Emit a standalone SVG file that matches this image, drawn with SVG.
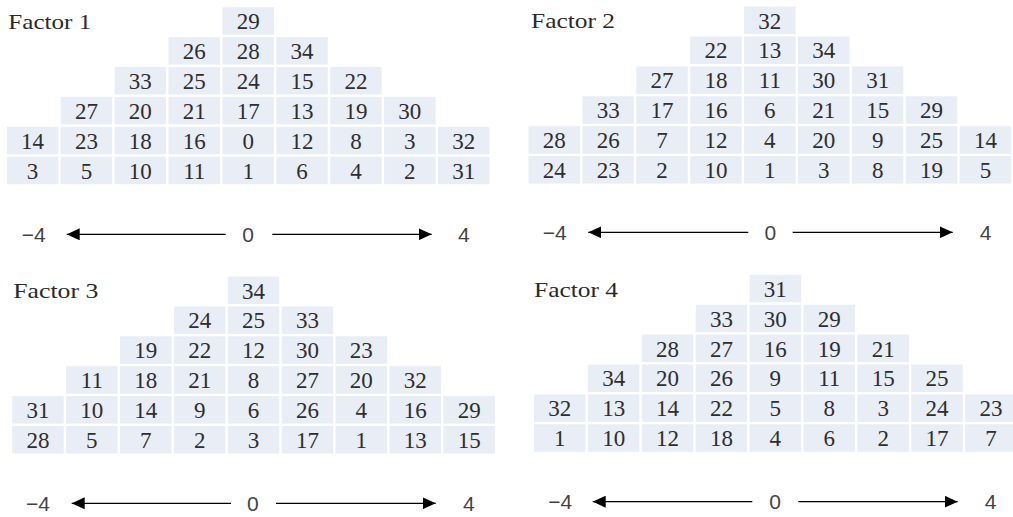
<svg xmlns="http://www.w3.org/2000/svg" width="1013" height="517" viewBox="0 0 1013 517">
<style>
.c{fill:#E9EDF6}
.n{font-family:"Liberation Serif","Times New Roman",serif;font-size:23px;fill:#2e2e2e;text-anchor:middle}
.t{font-family:"Liberation Serif","Times New Roman",serif;font-size:22px;fill:#2a2a2a}
.a{font-family:"Liberation Sans",Arial,sans-serif;font-size:21px;fill:#444}
.m{text-anchor:middle}
.ln{stroke:#000;stroke-width:1.3;fill:none;marker-end:url(#ah)}
</style>
<defs>
<marker id="ah" markerUnits="userSpaceOnUse" markerWidth="13" markerHeight="12" refX="13" refY="6" orient="auto">
<path d="M0,0 L13,6 L0,12 z" fill="#000"/>
</marker>
<g id="shape">
<rect class="c" x="215.6" y="0" width="51.5" height="27.5"/>
<rect class="c" x="161.7" y="29.9" width="51.5" height="27.5"/><rect class="c" x="215.6" y="29.9" width="51.5" height="27.5"/><rect class="c" x="269.5" y="29.9" width="51.5" height="27.5"/>
<rect class="c" x="107.8" y="59.8" width="51.5" height="27.5"/><rect class="c" x="161.7" y="59.8" width="51.5" height="27.5"/><rect class="c" x="215.6" y="59.8" width="51.5" height="27.5"/><rect class="c" x="269.5" y="59.8" width="51.5" height="27.5"/><rect class="c" x="323.4" y="59.8" width="51.5" height="27.5"/>
<rect class="c" x="53.9" y="89.7" width="51.5" height="27.5"/><rect class="c" x="107.8" y="89.7" width="51.5" height="27.5"/><rect class="c" x="161.7" y="89.7" width="51.5" height="27.5"/><rect class="c" x="215.6" y="89.7" width="51.5" height="27.5"/><rect class="c" x="269.5" y="89.7" width="51.5" height="27.5"/><rect class="c" x="323.4" y="89.7" width="51.5" height="27.5"/><rect class="c" x="377.3" y="89.7" width="51.5" height="27.5"/>
<rect class="c" x="0" y="119.6" width="51.5" height="27.5"/><rect class="c" x="53.9" y="119.6" width="51.5" height="27.5"/><rect class="c" x="107.8" y="119.6" width="51.5" height="27.5"/><rect class="c" x="161.7" y="119.6" width="51.5" height="27.5"/><rect class="c" x="215.6" y="119.6" width="51.5" height="27.5"/><rect class="c" x="269.5" y="119.6" width="51.5" height="27.5"/><rect class="c" x="323.4" y="119.6" width="51.5" height="27.5"/><rect class="c" x="377.3" y="119.6" width="51.5" height="27.5"/><rect class="c" x="431.2" y="119.6" width="51.5" height="27.5"/>
<rect class="c" x="0" y="149.5" width="51.5" height="27.5"/><rect class="c" x="53.9" y="149.5" width="51.5" height="27.5"/><rect class="c" x="107.8" y="149.5" width="51.5" height="27.5"/><rect class="c" x="161.7" y="149.5" width="51.5" height="27.5"/><rect class="c" x="215.6" y="149.5" width="51.5" height="27.5"/><rect class="c" x="269.5" y="149.5" width="51.5" height="27.5"/><rect class="c" x="323.4" y="149.5" width="51.5" height="27.5"/><rect class="c" x="377.3" y="149.5" width="51.5" height="27.5"/><rect class="c" x="431.2" y="149.5" width="51.5" height="27.5"/>
</g>
</defs>

<g id="factor1" transform="translate(6.8,7.2)">
<use href="#shape"/>
<text class="n" x="241.35" y="22">29</text>
<text class="n" x="187.45" y="51.9">26</text><text class="n" x="241.35" y="51.9">28</text><text class="n" x="295.25" y="51.9">34</text>
<text class="n" x="133.55" y="81.8">33</text><text class="n" x="187.45" y="81.8">25</text><text class="n" x="241.35" y="81.8">24</text><text class="n" x="295.25" y="81.8">15</text><text class="n" x="349.15" y="81.8">22</text>
<text class="n" x="79.65" y="111.7">27</text><text class="n" x="133.55" y="111.7">20</text><text class="n" x="187.45" y="111.7">21</text><text class="n" x="241.35" y="111.7">17</text><text class="n" x="295.25" y="111.7">13</text><text class="n" x="349.15" y="111.7">19</text><text class="n" x="403.05" y="111.7">30</text>
<text class="n" x="25.75" y="141.6">14</text><text class="n" x="79.65" y="141.6">23</text><text class="n" x="133.55" y="141.6">18</text><text class="n" x="187.45" y="141.6">16</text><text class="n" x="241.35" y="141.6">0</text><text class="n" x="295.25" y="141.6">12</text><text class="n" x="349.15" y="141.6">8</text><text class="n" x="403.05" y="141.6">3</text><text class="n" x="456.95" y="141.6">32</text>
<text class="n" x="25.75" y="171.5">3</text><text class="n" x="79.65" y="171.5">5</text><text class="n" x="133.55" y="171.5">10</text><text class="n" x="187.45" y="171.5">11</text><text class="n" x="241.35" y="171.5">1</text><text class="n" x="295.25" y="171.5">6</text><text class="n" x="349.15" y="171.5">4</text><text class="n" x="403.05" y="171.5">2</text><text class="n" x="456.95" y="171.5">31</text>
</g>
<text class="t" x="8.3" y="29" textLength="83" lengthAdjust="spacingAndGlyphs">Factor 1</text>

<g id="factor2" transform="translate(528.5,6.6)">
<use href="#shape"/>
<text class="n" x="241.35" y="22">32</text>
<text class="n" x="187.45" y="51.9">22</text><text class="n" x="241.35" y="51.9">13</text><text class="n" x="295.25" y="51.9">34</text>
<text class="n" x="133.55" y="81.8">27</text><text class="n" x="187.45" y="81.8">18</text><text class="n" x="241.35" y="81.8">11</text><text class="n" x="295.25" y="81.8">30</text><text class="n" x="349.15" y="81.8">31</text>
<text class="n" x="79.65" y="111.7">33</text><text class="n" x="133.55" y="111.7">17</text><text class="n" x="187.45" y="111.7">16</text><text class="n" x="241.35" y="111.7">6</text><text class="n" x="295.25" y="111.7">21</text><text class="n" x="349.15" y="111.7">15</text><text class="n" x="403.05" y="111.7">29</text>
<text class="n" x="25.75" y="141.6">28</text><text class="n" x="79.65" y="141.6">26</text><text class="n" x="133.55" y="141.6">7</text><text class="n" x="187.45" y="141.6">12</text><text class="n" x="241.35" y="141.6">4</text><text class="n" x="295.25" y="141.6">20</text><text class="n" x="349.15" y="141.6">9</text><text class="n" x="403.05" y="141.6">25</text><text class="n" x="456.95" y="141.6">14</text>
<text class="n" x="25.75" y="171.5">24</text><text class="n" x="79.65" y="171.5">23</text><text class="n" x="133.55" y="171.5">2</text><text class="n" x="187.45" y="171.5">10</text><text class="n" x="241.35" y="171.5">1</text><text class="n" x="295.25" y="171.5">3</text><text class="n" x="349.15" y="171.5">8</text><text class="n" x="403.05" y="171.5">19</text><text class="n" x="456.95" y="171.5">5</text>
</g>
<text class="t" x="531" y="28.3" textLength="84" lengthAdjust="spacingAndGlyphs">Factor 2</text>

<g id="factor3" transform="translate(12.2,276.5)">
<use href="#shape"/>
<text class="n" x="241.35" y="22">34</text>
<text class="n" x="187.45" y="51.9">24</text><text class="n" x="241.35" y="51.9">25</text><text class="n" x="295.25" y="51.9">33</text>
<text class="n" x="133.55" y="81.8">19</text><text class="n" x="187.45" y="81.8">22</text><text class="n" x="241.35" y="81.8">12</text><text class="n" x="295.25" y="81.8">30</text><text class="n" x="349.15" y="81.8">23</text>
<text class="n" x="79.65" y="111.7">11</text><text class="n" x="133.55" y="111.7">18</text><text class="n" x="187.45" y="111.7">21</text><text class="n" x="241.35" y="111.7">8</text><text class="n" x="295.25" y="111.7">27</text><text class="n" x="349.15" y="111.7">20</text><text class="n" x="403.05" y="111.7">32</text>
<text class="n" x="25.75" y="141.6">31</text><text class="n" x="79.65" y="141.6">10</text><text class="n" x="133.55" y="141.6">14</text><text class="n" x="187.45" y="141.6">9</text><text class="n" x="241.35" y="141.6">6</text><text class="n" x="295.25" y="141.6">26</text><text class="n" x="349.15" y="141.6">4</text><text class="n" x="403.05" y="141.6">16</text><text class="n" x="456.95" y="141.6">29</text>
<text class="n" x="25.75" y="171.5">28</text><text class="n" x="79.65" y="171.5">5</text><text class="n" x="133.55" y="171.5">7</text><text class="n" x="187.45" y="171.5">2</text><text class="n" x="241.35" y="171.5">3</text><text class="n" x="295.25" y="171.5">17</text><text class="n" x="349.15" y="171.5">1</text><text class="n" x="403.05" y="171.5">13</text><text class="n" x="456.95" y="171.5">15</text>
</g>
<text class="t" x="13.3" y="298.3" textLength="85" lengthAdjust="spacingAndGlyphs">Factor 3</text>

<g id="factor4" transform="translate(534,274.8)">
<use href="#shape"/>
<text class="n" x="241.35" y="22">31</text>
<text class="n" x="187.45" y="51.9">33</text><text class="n" x="241.35" y="51.9">30</text><text class="n" x="295.25" y="51.9">29</text>
<text class="n" x="133.55" y="81.8">28</text><text class="n" x="187.45" y="81.8">27</text><text class="n" x="241.35" y="81.8">16</text><text class="n" x="295.25" y="81.8">19</text><text class="n" x="349.15" y="81.8">21</text>
<text class="n" x="79.65" y="111.7">34</text><text class="n" x="133.55" y="111.7">20</text><text class="n" x="187.45" y="111.7">26</text><text class="n" x="241.35" y="111.7">9</text><text class="n" x="295.25" y="111.7">11</text><text class="n" x="349.15" y="111.7">15</text><text class="n" x="403.05" y="111.7">25</text>
<text class="n" x="25.75" y="141.6">32</text><text class="n" x="79.65" y="141.6">13</text><text class="n" x="133.55" y="141.6">14</text><text class="n" x="187.45" y="141.6">22</text><text class="n" x="241.35" y="141.6">5</text><text class="n" x="295.25" y="141.6">8</text><text class="n" x="349.15" y="141.6">3</text><text class="n" x="403.05" y="141.6">24</text><text class="n" x="456.95" y="141.6">23</text>
<text class="n" x="25.75" y="171.5">1</text><text class="n" x="79.65" y="171.5">10</text><text class="n" x="133.55" y="171.5">12</text><text class="n" x="187.45" y="171.5">18</text><text class="n" x="241.35" y="171.5">4</text><text class="n" x="295.25" y="171.5">6</text><text class="n" x="349.15" y="171.5">2</text><text class="n" x="403.05" y="171.5">17</text><text class="n" x="456.95" y="171.5">7</text>
</g>
<text class="t" x="534" y="297.3" textLength="84" lengthAdjust="spacingAndGlyphs">Factor 4</text>

<g id="axis-labels">
<text class="a" x="21.7" y="241.7">−4</text><text class="a m" x="248" y="241.7">0</text><text class="a m" x="463.8" y="241.7">4</text>
<text class="a" x="542.7" y="239.7">−4</text><text class="a m" x="770.3" y="239.7">0</text><text class="a m" x="985.5" y="239.7">4</text>
<text class="a" x="26" y="510.7">−4</text><text class="a m" x="252.8" y="510.7">0</text><text class="a m" x="468.8" y="510.7">4</text>
<text class="a" x="548.3" y="509.1">−4</text><text class="a m" x="775" y="509.1">0</text><text class="a m" x="990.5" y="509.1">4</text>
</g>

<g id="connectors">
<line class="ln" x1="225.7" y1="234.3" x2="66.7" y2="234.3"/>
<line class="ln" x1="272.3" y1="234.3" x2="431.7" y2="234.3"/>
<line class="ln" x1="748.3" y1="232.3" x2="588.3" y2="232.3"/>
<line class="ln" x1="792.7" y1="232.3" x2="952.7" y2="232.3"/>
<line class="ln" x1="231" y1="503.3" x2="71.7" y2="503.3"/>
<line class="ln" x1="276" y1="503.3" x2="435.7" y2="503.3"/>
<line class="ln" x1="752.3" y1="501.7" x2="592.7" y2="501.7"/>
<line class="ln" x1="798.3" y1="501.7" x2="957.7" y2="501.7"/>
</g>
</svg>
